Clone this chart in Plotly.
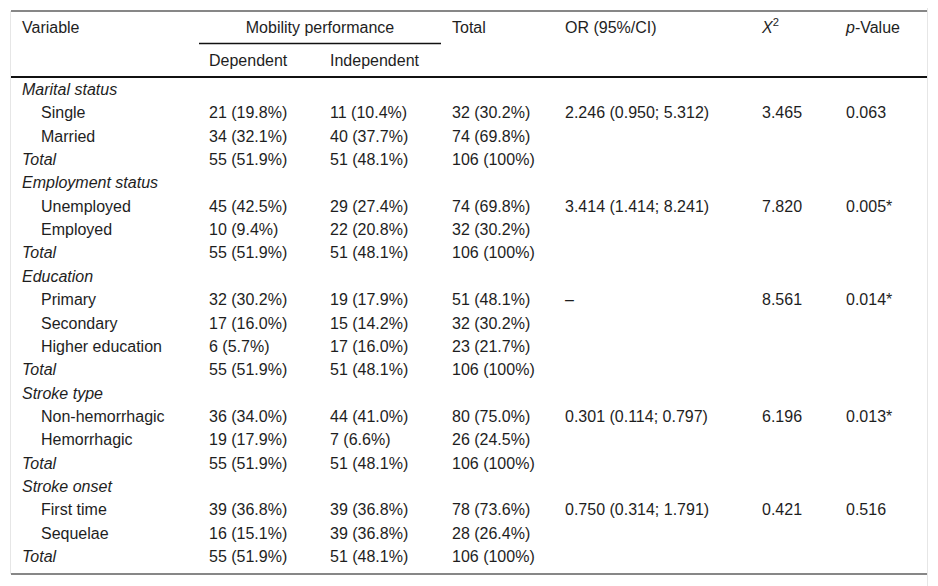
import plotly.graph_objects as go

# rows of the table (group headers and totals in italics)
variables = ["Marital status", "Single", "Married", "Total",
             "Employment status", "Unemployed", "Employed", "Total",
             "Education", "Primary", "Secondary", "Higher education", "Total",
             "Stroke type", "Non-hemorrhagic", "Hemorrhagic", "Total",
             "Stroke onset", "First time", "Sequelae", "Total"]
row_kind = ["group", "item", "item", "total",
            "group", "item", "item", "total",
            "group", "item", "item", "item", "total",
            "group", "item", "item", "total",
            "group", "item", "item", "total"]
dependent = ["", "21 (19.8%)", "34 (32.1%)", "55 (51.9%)",
             "", "45 (42.5%)", "10 (9.4%)", "55 (51.9%)",
             "", "32 (30.2%)", "17 (16.0%)", "6 (5.7%)", "55 (51.9%)",
             "", "36 (34.0%)", "19 (17.9%)", "55 (51.9%)",
             "", "39 (36.8%)", "16 (15.1%)", "55 (51.9%)"]
independent = ["", "11 (10.4%)", "40 (37.7%)", "51 (48.1%)",
               "", "29 (27.4%)", "22 (20.8%)", "51 (48.1%)",
               "", "19 (17.9%)", "15 (14.2%)", "17 (16.0%)", "51 (48.1%)",
               "", "44 (41.0%)", "7 (6.6%)", "51 (48.1%)",
               "", "39 (36.8%)", "39 (36.8%)", "51 (48.1%)"]
total = ["", "32 (30.2%)", "74 (69.8%)", "106 (100%)",
         "", "74 (69.8%)", "32 (30.2%)", "106 (100%)",
         "", "51 (48.1%)", "32 (30.2%)", "23 (21.7%)", "106 (100%)",
         "", "80 (75.0%)", "26 (24.5%)", "106 (100%)",
         "", "78 (73.6%)", "28 (26.4%)", "106 (100%)"]
odds_ci = ["", "2.246 (0.950; 5.312)", "", "",
           "", "3.414 (1.414; 8.241)", "", "",
           "", "–", "", "", "",
           "", "0.301 (0.114; 0.797)", "", "",
           "", "0.750 (0.314; 1.791)", "", ""]
chi2 = ["", "3.465", "", "",
        "", "7.820", "", "",
        "", "8.561", "", "", "",
        "", "6.196", "", "",
        "", "0.421", "", ""]
p_value = ["", "0.063", "", "",
           "", "0.005*", "", "",
           "", "0.014*", "", "", "",
           "", "0.013*", "", "",
           "", "0.516", "", ""]

headers = ["Variable", "Dependent", "Independent", "Total", "OR (95%/CI)",
           "<i>X</i><sup>2</sup>", "<i>p</i>-Value"]

# layout in pixels (page body has an 8px margin, so the figure starts at 8)
W, H = 938, 586
PAD = 8
col_x = [22, 209, 330, 452, 565, 762, 846]
indent = 19
first_row_y = 91
row_step = 23.35
font = dict(family="Liberation Sans, Arial, sans-serif", size=16, color="#1e1e1e")

row_y = [first_row_y + i * row_step for i in range(len(variables))]

var_text = []
var_x = []
for name, kind in zip(variables, row_kind):
    if kind == "item":
        var_text.append(name)
        var_x.append(col_x[0] + indent)
    else:
        var_text.append("<i>" + name + "</i>")
        var_x.append(col_x[0])

fig = go.Figure()

def add_col(xs, ys, texts):
    keep = [(x, y, t) for x, y, t in zip(xs, ys, texts) if t]
    fig.add_trace(go.Scatter(x=[k[0] for k in keep], y=[k[1] for k in keep],
                             text=[k[2] for k in keep], mode="text",
                             textposition="middle right", textfont=font,
                             hoverinfo="skip", showlegend=False))

add_col(var_x, row_y, var_text)
for cx, vals in zip(col_x[1:], [dependent, independent, total, odds_ci, chi2, p_value]):
    add_col([cx] * len(vals), row_y, vals)

# header rows
head_y = [29, 62, 62, 29, 29, 29, 29]
add_col(col_x, head_y, headers)
# spanning header, centred over the two sub columns
fig.add_trace(go.Scatter(x=[320], y=[29], text=["Mobility performance"], mode="text",
                         textposition="middle center", textfont=font,
                         hoverinfo="skip", showlegend=False))

line = dict(color="#111", width=1.2)
fig.add_shape(type="line", x0=11, x1=927, y0=11, y1=11, line=line)
fig.add_shape(type="line", x0=199, x1=441, y0=43.5, y1=43.5, line=dict(color="#111", width=1.5))
fig.add_shape(type="line", x0=11, x1=927, y0=77, y1=77, line=dict(color="#111", width=2))
fig.add_shape(type="line", x0=11, x1=927, y0=574, y1=574, line=line)
# faint frame at the sides
fig.add_shape(type="line", x0=10.5, x1=10.5, y0=11, y1=574, line=dict(color="#e6e6e6", width=1))
fig.add_shape(type="line", x0=927.5, x1=927.5, y0=PAD, y1=H, line=dict(color="#e6e6e6", width=1))

fig.update_xaxes(range=[PAD, W], visible=False, fixedrange=True)
fig.update_yaxes(range=[H, PAD], visible=False, fixedrange=True)
fig.update_layout(width=W - PAD, height=H - PAD, margin=dict(l=0, r=0, t=0, b=0),
                  plot_bgcolor="white", paper_bgcolor="white")

fig.write_html("out.html")
